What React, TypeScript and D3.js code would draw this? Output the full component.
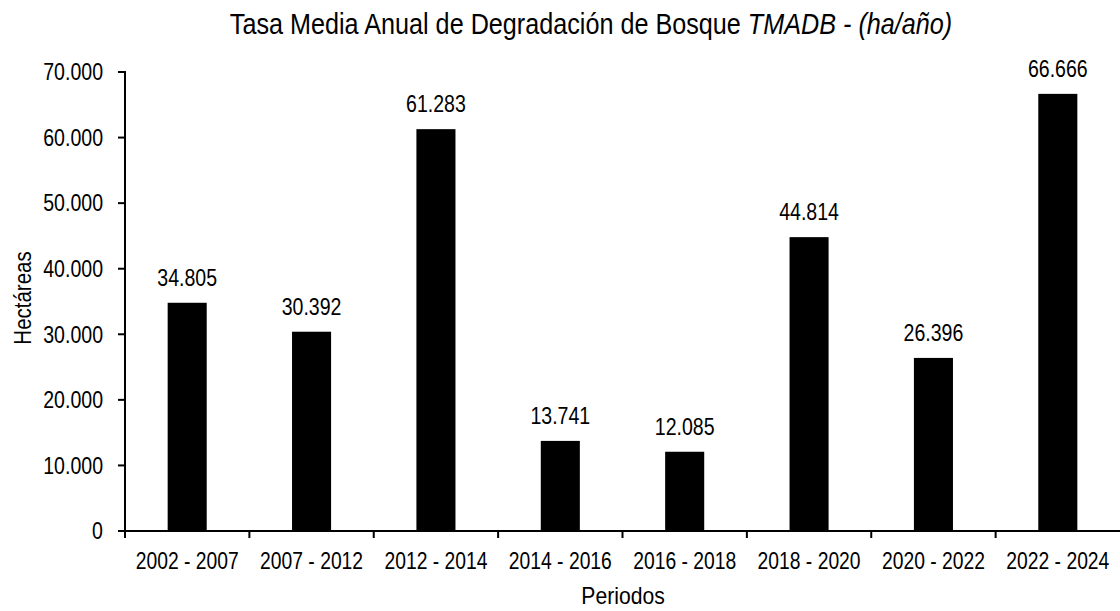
import React from "react";
import * as d3 from "d3";

const categories = ["2002 - 2007", "2007 - 2012", "2012 - 2014", "2014 - 2016", "2016 - 2018", "2018 - 2020", "2020 - 2022", "2022 - 2024"];
const values = [34805, 30392, 61283, 13741, 12085, 44814, 26396, 66666];
const yTicks = [0, 10000, 20000, 30000, 40000, 50000, 60000, 70000];

const W = 1120, H = 611;
const left = 125, right = 1120, top = 72, bottom = 531;
const FONT = "'Liberation Sans', Arial, sans-serif";

const fmt = (v: number) => {
  const s = Math.round(v).toString();
  return s.replace(/\B(?=(\d{3})+(?!\d))/g, ".");
};

function NText(props: { x: number; y: number; sx: number; size: number; anchor?: string; rotate?: number; dy?: string; children: React.ReactNode }) {
  const { x, y, sx, size, anchor = "middle", rotate = 0, dy, children } = props;
  return (
    <text
      transform={`translate(${x},${y}) rotate(${rotate}) scale(${sx},1)`}
      textAnchor={anchor}
      fontSize={size}
      dy={dy}
      fill="#000"
    >
      {children}
    </text>
  );
}

export default function App() {
  const x = d3.scaleBand<string>().domain(categories).range([left, right]).paddingInner(0).paddingOuter(0);
  const y = d3.scaleLinear().domain([0, 70000]).range([bottom, top]);
  const bw = x.bandwidth() * 0.314;
  return (
    <svg width={W} height={H} style={{ position: "absolute", left: 0, top: 0 }} fontFamily={FONT}>
      <rect x={0} y={0} width={W} height={H} fill="#fff" />
      <NText x={591} y={34} sx={0.84} size={30}>
        Tasa Media Anual de Degradación de Bosque <tspan fontStyle="italic">TMADB - (ha/año)</tspan>
      </NText>
      {categories.map((c, i) => {
        const cx = (x(c) as number) + x.bandwidth() / 2;
        return (
          <g key={c}>
            <rect x={cx - bw / 2} y={y(values[i])} width={bw} height={bottom - y(values[i])} fill="#000" />
            <NText x={cx} y={y(values[i]) - 17} sx={0.85} size={23}>{fmt(values[i])}</NText>
            <NText x={cx} y={569} sx={0.84} size={23}>{c}</NText>
          </g>
        );
      })}
      {categories.map((c) => (
        <line key={"t" + c} x1={x(c) as number} x2={x(c) as number} y1={bottom} y2={bottom + 7} stroke="#000" strokeWidth={2} />
      ))}
      {yTicks.map((t) => (
        <g key={t}>
          <line x1={left - 7} x2={left} y1={y(t)} y2={y(t)} stroke="#000" strokeWidth={2} />
          <NText x={103} y={y(t)} sx={0.85} size={23} anchor="end" dy="0.36em">{fmt(t)}</NText>
        </g>
      ))}
      <line x1={left} x2={left} y1={top - 1} y2={bottom + 1} stroke="#000" strokeWidth={2} />
      <line x1={left} x2={right} y1={bottom} y2={bottom} stroke="#000" strokeWidth={2} />
      <NText x={31} y={298} sx={0.89} size={23} rotate={-90}>Hectáreas</NText>
      <NText x={623} y={604} sx={0.92} size={23}>Periodos</NText>
    </svg>
  );
}
